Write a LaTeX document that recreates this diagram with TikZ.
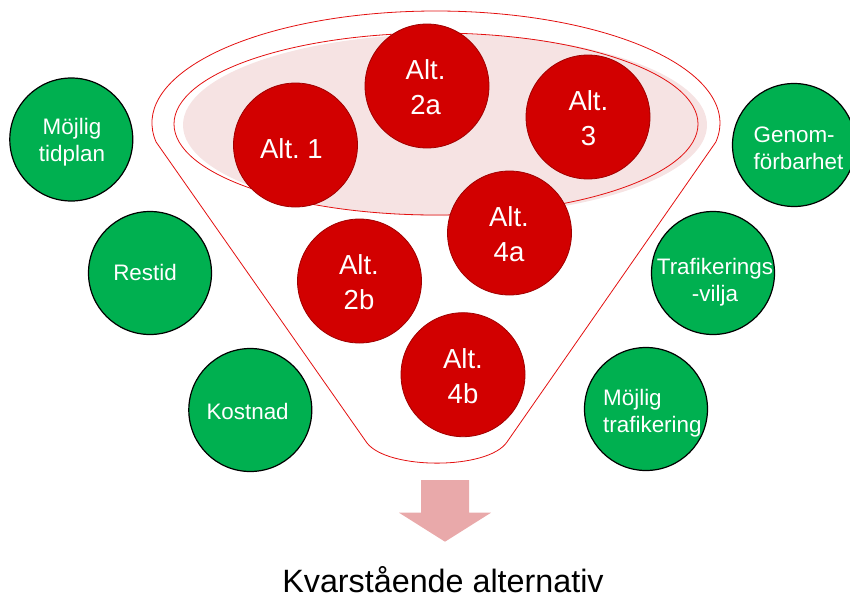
\documentclass[tikz,border=0pt]{standalone}
\usepackage{fontspec}
\setmainfont{Liberation Sans}
\frenchspacing
\definecolor{altred}{HTML}{D20000}
\definecolor{altredborder}{HTML}{A00000}
\definecolor{critgreen}{HTML}{00B050}
\definecolor{funnelred}{HTML}{E31010}
\definecolor{pinkfill}{HTML}{F6E3E3}
\definecolor{arrowpink}{HTML}{E9A9AA}
\tikzset{
  altcircle/.style={circle, fill=altred, draw=altredborder, line width=0.8pt, minimum size=124pt, inner sep=0pt},
  critcircle/.style={circle, fill=critgreen, draw=black, line width=1.2pt, minimum size=123pt, inner sep=0pt},
  alttext/.style={text=white, inner sep=0pt, align=center, font=\fontsize{27.5}{35}\selectfont},
  crittext/.style={text=white, inner sep=0pt, font=\fontsize{22.4}{27}\selectfont},
  funnelline/.style={draw=funnelred, line width=0.8pt},
}
\begin{document}
\begin{tikzpicture}[x=1pt, y=-1pt]
\useasboundingbox (0,0) rectangle (850,605);
% funnel
\draw[funnelline, line join=round] (367,443) -- (156.1,142)
  arc[start angle=170.23, end angle=369.77, x radius=284, y radius=112]
  -- (507,442) .. controls (488,470) and (388,470) .. cycle;
\fill[pinkfill] (445,125) ellipse [x radius=262, y radius=91];
\draw[funnelline] (436,124) ellipse [x radius=262, y radius=91];
% alternatives
\node[altcircle] (a1) at (295.5,145) {};
\node[altcircle] (a2a) at (427,86) {};
\node[altcircle] (a3) at (588,117) {};
\node[altcircle] (a4a) at (509.5,233) {};
\node[altcircle] (a2b) at (359.5,281) {};
\node[altcircle] (a4b) at (463,374.7) {};
\node[alttext] (t1) at (291.4,148.2) {Alt. 1};
\node[alttext] (t2a) at (425.6,86.7) {Alt.\\2a};
\node[alttext] (t3) at (588.4,117.9) {Alt.\\3};
\node[alttext] (t4a) at (509,234.5) {Alt.\\4a};
\node[alttext] (t2b) at (359,282.5) {Alt.\\2b};
\node[alttext] (t4b) at (463,376) {Alt.\\4b};
% criteria
\node[critcircle] (tidplan) at (71.3,139.5) {};
\node[critcircle] (restid) at (150,273) {};
\node[critcircle] (kostnad) at (250.3,410) {};
\node[critcircle] (genom) at (794,145) {};
\node[critcircle] (vilja) at (713,273) {};
\node[critcircle] (trafik) at (646,409) {};
\node[crittext, align=center] (ttidplan) at (72,141.9) {Möjlig\\tidplan};
\node[crittext] (trestid) at (145,272) {Restid};
\node[crittext] (tkostnad) at (247.6,411.3) {Kostnad};
\node[crittext, align=left, anchor=west] (tgenom) at (753.5,148) {Genom-\\förbarhet};
\node[crittext, align=center] (tvilja) at (715,282.4) {Trafikerings\\-vilja};
\node[crittext, align=left, anchor=west] (ttrafik) at (603,413) {Möjlig\\trafikering};
% arrow
\coordinate (arrtip) at (445,541.7);
\fill[arrowpink] (421,480) -- (469,480) -- (469,512.7) -- (491,512.7) -- (arrtip) -- (399,512.7) -- (421,512.7) -- cycle;
\node[inner sep=0pt, anchor=base, font=\fontsize{32.3}{38}\selectfont] (result) at (443,592.3) {Kvarstående alternativ};
\end{tikzpicture}
\end{document}
